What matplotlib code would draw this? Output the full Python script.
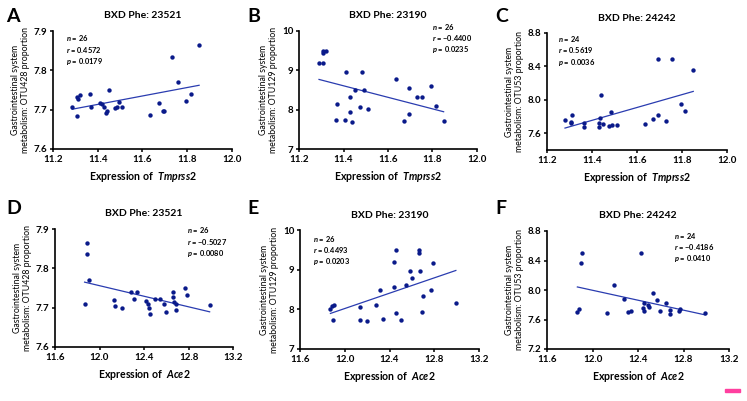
import numpy as np
import matplotlib
matplotlib.use('Agg')
import matplotlib.pyplot as plt
from matplotlib.ticker import FormatStrFormatter
from matplotlib.patches import Rectangle

plt.rcParams['font.family'] = ['Lato', 'DejaVu Sans']
plt.rcParams['mathtext.fontset'] = 'custom'
plt.rcParams['mathtext.it'] = 'Lato:italic:bold'
plt.rcParams['mathtext.rm'] = 'Lato:bold'

# Tmprss2 expression (panels A-C)
tmp_x_a = [11.286, 11.309, 11.309, 11.313, 11.319, 11.367, 11.370, 11.409, 11.418, 11.429,
           11.435, 11.440, 11.450, 11.476, 11.486, 11.493, 11.510, 11.635, 11.672, 11.692,
           11.698, 11.733, 11.757, 11.796, 11.818, 11.853]
otu428_a = [7.708, 7.684, 7.731, 7.727, 7.738, 7.739, 7.706, 7.718, 7.715, 7.708,
            7.692, 7.697, 7.749, 7.703, 7.708, 7.720, 7.708, 7.686, 7.716, 7.697,
            7.697, 7.835, 7.770, 7.723, 7.739, 7.864]

tmp_x_b = [11.29, 11.31, 11.31, 11.31, 11.32, 11.37, 11.365, 11.405, 11.41, 11.43,
           11.43, 11.44, 11.45, 11.475, 11.485, 11.49, 11.51, 11.635, 11.67, 11.695,
           11.695, 11.73, 11.755, 11.795, 11.815, 11.85]
otu129_b = [9.19, 9.18, 9.50, 9.43, 9.49, 8.15, 7.73, 7.73, 8.96, 8.32,
            7.93, 7.69, 8.50, 8.06, 8.96, 8.49, 8.01, 8.78, 7.71, 8.56,
            7.90, 8.32, 8.32, 8.61, 8.09, 7.72]

tmp_x_c = [11.28, 11.305, 11.305, 11.31, 11.365, 11.365, 11.43, 11.43, 11.435, 11.44,
           11.45, 11.475, 11.485, 11.49, 11.51, 11.635, 11.67, 11.695, 11.695, 11.73,
           11.755, 11.795, 11.815, 11.85]
otu53_c = [7.753, 7.72, 7.74, 7.82, 7.72, 7.68, 7.72, 7.67, 7.78, 8.06,
           7.71, 7.69, 7.85, 7.70, 7.70, 7.71, 7.765, 7.82, 8.49, 7.745,
           8.49, 7.95, 7.87, 8.36]

# Ace2 expression (panels D-F)
ace_x_d = [11.866, 11.89, 11.887, 11.902, 12.13, 12.135, 12.198, 12.28, 12.31, 12.335,
           12.416, 12.437, 12.443, 12.45, 12.50, 12.54, 12.584, 12.60, 12.665, 12.66,
           12.67, 12.69, 12.69, 12.772, 12.785, 12.99]
otu428_d = [7.710, 7.865, 7.836, 7.770, 7.719, 7.704, 7.699, 7.740, 7.721, 7.739,
            7.717, 7.710, 7.698, 7.685, 7.722, 7.722, 7.710, 7.688, 7.739, 7.727,
            7.715, 7.710, 7.693, 7.750, 7.732, 7.706]

ace_x_e = [11.872, 11.887, 11.908, 11.896, 12.135, 12.132, 12.198, 12.28, 12.314, 12.338,
           12.443, 12.437, 12.458, 12.455, 12.503, 12.545, 12.587, 12.605, 12.667, 12.665,
           12.67, 12.695, 12.69, 12.772, 12.787, 12.993]
otu129_e = [8.02, 8.09, 8.10, 7.73, 8.07, 7.73, 7.71, 8.10, 8.49, 7.75,
            9.19, 8.57, 9.50, 7.92, 7.73, 8.62, 8.96, 8.80, 9.49, 9.43,
            8.97, 8.34, 7.94, 8.49, 9.18, 8.17]

ace_x_f = [11.867, 11.885, 11.895, 11.904, 12.13, 12.19, 12.28, 12.31, 12.337, 12.43,
           12.44, 12.457, 12.457, 12.485, 12.50, 12.53, 12.57, 12.59, 12.65, 12.68,
           12.68, 12.76, 12.77, 12.99]
otu53_f = [7.697, 7.742, 8.37, 8.497, 7.688, 8.063, 7.873, 7.706, 7.72, 8.497,
           7.751, 7.72, 7.82, 7.792, 7.77, 7.955, 7.86, 7.715, 7.828, 7.67,
           7.73, 7.72, 7.742, 7.688]

titles = ['BXD Phe: 23521', 'BXD Phe: 23190', 'BXD Phe: 24242']
otus = ['OTU428', 'OTU129', 'OTU53']
stats = [('26', '0.4572', '0.0179'), ('26', '\u22120.4400', '0.0235'), ('24', '0.5619', '0.0036'),
         ('26', '\u22120.5027', '0.0080'), ('26', '0.4493', '0.0203'), ('24', '\u22120.4186', '0.0410')]

W, H = 747, 401
fig = plt.figure(figsize=(W / 100, H / 100), dpi=100)

# axes boxes in pixels: left, right, top, bottom
boxes = [(53, 232, 31, 149), (299, 477, 31, 149), (547, 727, 33, 150),
         (55, 233, 229, 347), (300, 479, 230, 349), (547, 729, 231, 349)]
panels = [
    (tmp_x_a, otu428_a, 'Tmprss2', (11.2, 12.0), np.arange(11.2, 12.01, 0.2), (7.6, 7.9), np.arange(7.6, 7.91, 0.1), '%.1f'),
    (tmp_x_b, otu129_b, 'Tmprss2', (11.2, 12.0), np.arange(11.2, 12.01, 0.2), (7, 10), [7, 8, 9, 10], '%d'),
    (tmp_x_c, otu53_c, 'Tmprss2', (11.2, 12.0), np.arange(11.2, 12.01, 0.2), (7.4, 8.8), [7.6, 8.0, 8.4, 8.8], '%.1f'),
    (ace_x_d, otu428_d, 'Ace2', (11.6, 13.2), np.arange(11.6, 13.21, 0.4), (7.6, 7.9), np.arange(7.6, 7.91, 0.1), '%.1f'),
    (ace_x_e, otu129_e, 'Ace2', (11.6, 13.2), np.arange(11.6, 13.21, 0.4), (7, 10), [7, 8, 9, 10], '%d'),
    (ace_x_f, otu53_f, 'Ace2', (11.6, 13.2), np.arange(11.6, 13.21, 0.4), (7.2, 8.8), [7.2, 7.6, 8.0, 8.4, 8.8], '%.1f'),
]
# stats block top-left corner (axes fraction)
stat_pos = [(0.07, 0.98), (0.75, 1.08), (0.06, 0.99), (0.74, 1.03), (0.07, 0.97), (0.70, 1.0)]
letters = ['A', 'B', 'C', 'D', 'E', 'F']
letter_pos = [(6, 22), (247, 22), (495, 22), (6, 214), (247, 214), (495, 214)]

for i, (xs, ys, gene, xl, xt, yl, yt, yfmt) in enumerate(panels):
    l, r, t, b = boxes[i]
    ax = fig.add_axes([l / W, 1 - b / H, (r - l) / W, (b - t) / H])
    xs = np.array(xs)
    ys = np.array(ys)
    ax.scatter(xs, ys, s=10, color='#0a1a8a', zorder=3, linewidths=0)
    k, c = np.polyfit(xs, ys, 1)
    lx = np.array([xs.min(), xs.max()])
    ax.plot(lx, k * lx + c, color='#2a3cb0', lw=0.9)

    ax.set_xlim(*xl)
    ax.set_ylim(*yl)
    ax.set_xticks(xt)
    ax.set_yticks(yt)
    ax.xaxis.set_major_formatter(FormatStrFormatter('%.1f'))
    ax.yaxis.set_major_formatter(FormatStrFormatter(yfmt))
    for s in ['top', 'right']:
        ax.spines[s].set_visible(False)
    for s in ['left', 'bottom']:
        ax.spines[s].set_linewidth(1.2)
    ax.tick_params(direction='out', length=2.5, width=1.1, labelsize=7, pad=1.5)
    for lab in ax.get_xticklabels() + ax.get_yticklabels():
        lab.set_fontweight('bold')

    ax.set_title(titles[i % 3], fontsize=7.5, fontweight='bold', pad=9)
    ax.set_xlabel(r'Expression of  $\mathit{' + gene + '}$', fontsize=7.6, fontweight='bold', labelpad=4)
    ax.set_ylabel('Gastrointestinal system\nmetabolism: ' + otus[i % 3] + ' proportion',
                  fontsize=6.3, labelpad=3, linespacing=1.15)

    n, rv, pv = stats[i]
    sx, sy = stat_pos[i]
    block = r'$n$ = ' + n + '\n' + r'$r$ = ' + rv + '\n' + r'$p$ = ' + pv
    ax.text(sx, sy, block, transform=ax.transAxes, fontsize=5.4, fontweight='bold',
            va='top', linespacing=1.15, clip_on=False)

    lx_, ly_ = letter_pos[i]
    fig.text(lx_ / W, 1 - ly_ / H, letters[i], fontsize=14, fontweight='bold', va='baseline')

# small pink mark in the corner
fig.patches.append(Rectangle((725 / W, 1 - 392 / H), 15 / W, 3 / H, transform=fig.transFigure,
                             color='#ff3f9f', zorder=5))

fig.savefig('out.png', dpi=100)
